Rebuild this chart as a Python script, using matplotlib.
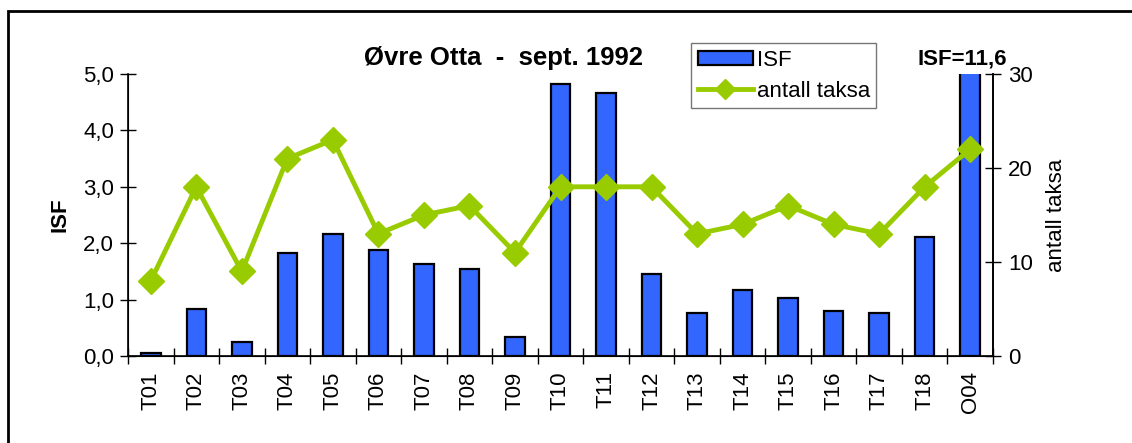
import matplotlib
matplotlib.use("Agg")
import matplotlib.pyplot as plt
from matplotlib.lines import Line2D
from matplotlib.patches import Patch, Rectangle
import numpy as np

plt.rcParams['font.family'] = ['Liberation Sans', 'DejaVu Sans']

stations = ["T01", "T02", "T03", "T04", "T05", "T06", "T07", "T08", "T09", "T10",
            "T11", "T12", "T13", "T14", "T15", "T16", "T17", "T18", "O04"]
isf = [0.06, 0.83, 0.24, 1.82, 2.16, 1.88, 1.64, 1.54, 0.33, 4.83,
       4.67, 1.45, 0.76, 1.17, 1.03, 0.80, 0.76, 2.11, 11.6]
taxa = [8, 18, 9, 21, 23, 13, 15, 16, 11, 18,
        18, 18, 13, 14, 16, 14, 13, 18, 22]
isf_ticks = [0.0, 1.0, 2.0, 3.0, 4.0, 5.0]
taxa_ticks = [0, 10, 20, 30]

BLUE = "#3366FF"
GREEN = "#99CC00"
FS = 16

fig = plt.figure(figsize=(11.32, 4.43), dpi=100)
# outer chart frame
fig.patches.append(Rectangle((8 / 1132, -0.1), 1.2, 1 - 11 / 443 + 0.1,
                             transform=fig.transFigure, fill=False,
                             edgecolor="black", linewidth=2.0))

ax = fig.add_axes([128 / 1132, 1 - 356 / 443, 865 / 1132, 282 / 443])
x = np.arange(len(stations))
ax.bar(x, isf, width=0.43, color=BLUE, edgecolor="black", linewidth=1.6, zorder=2)
ax.set_xlim(-0.5, len(stations) - 0.5)
ax.set_ylim(0, 5.0)
ax.set_yticks(isf_ticks)
ax.set_yticklabels([f"{t:.1f}".replace(".", ",") for t in isf_ticks], fontsize=FS)
ax.set_xticks(x)
ax.set_xticklabels(stations, rotation=90, fontsize=FS)
ax.set_xticks(np.arange(len(stations) + 1) - 0.5, minor=True)
ax.tick_params(axis="x", which="major", length=0, pad=11)
ax.tick_params(axis="x", which="minor", direction="inout", length=12, width=1)
ax.tick_params(axis="y", direction="inout", length=12, width=1, pad=4)
ax.spines["top"].set_visible(False)
for s in ("left", "bottom", "right"):
    ax.spines[s].set_linewidth(1.2)
ax.set_ylabel("ISF", fontsize=FS, fontweight="bold", labelpad=9)

ax2 = ax.twinx()
ax2.plot(x, taxa, color=GREEN, linewidth=3.5, marker="D", markersize=13,
         markeredgecolor=GREEN, zorder=3)
ax2.set_ylim(0, 30)
ax2.set_yticks(taxa_ticks)
ax2.set_yticklabels([str(t) for t in taxa_ticks], fontsize=FS)
ax2.tick_params(axis="y", direction="inout", length=12, width=1, pad=5)
ax2.spines["top"].set_visible(False)
ax2.spines["right"].set_linewidth(1.2)
ax2.set_ylabel("antall taksa", fontsize=FS, labelpad=9)

fig.text(504 / 1132, 1 - 58 / 443, "Øvre Otta  -  sept. 1992", ha="center",
         va="center", fontsize=18.5, fontweight="bold")
fig.text(1007 / 1132, 1 - 59 / 443, f"ISF={isf[-1]:.1f}".replace(".", ","),
         ha="right", va="center", fontsize=FS, fontweight="bold")

handles = [Patch(facecolor=BLUE, edgecolor="black", linewidth=1.6),
           Line2D([0], [0], color=GREEN, linewidth=3.5, marker="D", markersize=10)]
leg = fig.legend(handles, ["ISF", "antall taksa"], loc="upper left",
                 bbox_to_anchor=(691 / 1132, 1 - 43 / 443), borderaxespad=0,
                 fontsize=FS, frameon=True, fancybox=False, borderpad=0.3,
                 handlelength=2.5, handleheight=0.6, handletextpad=0.15,
                 labelspacing=0.45)
leg.get_frame().set_edgecolor("#555555")
leg.get_frame().set_linewidth(1.0)

fig.savefig("out.png", dpi=100)
